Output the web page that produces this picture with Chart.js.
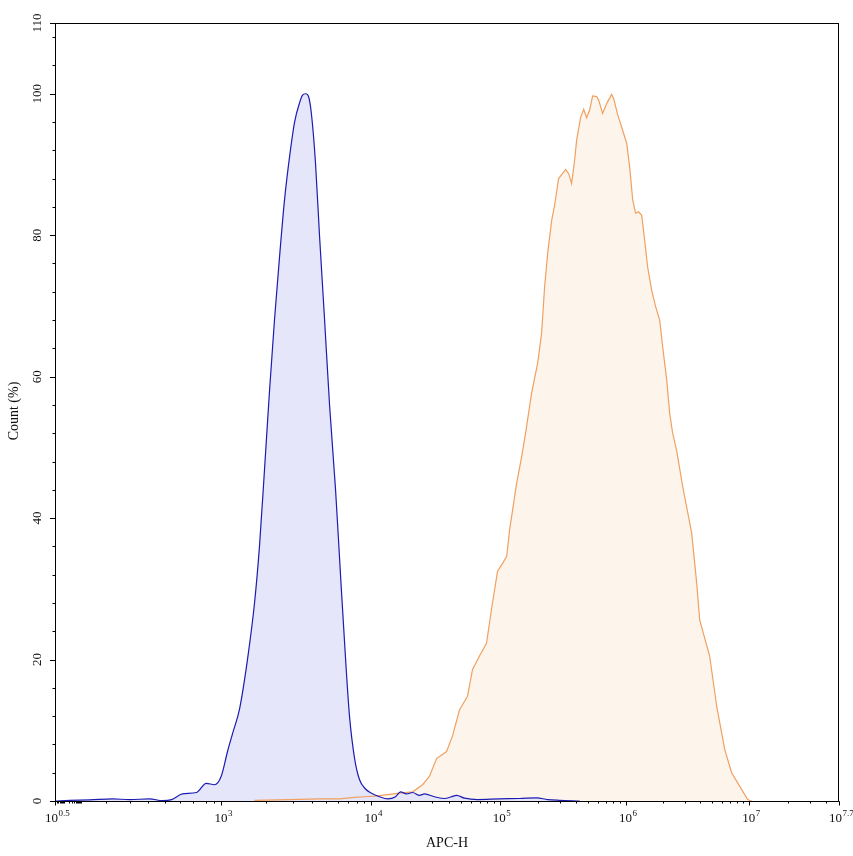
<!DOCTYPE html>
<html>
<head>
<meta charset="utf-8">
<title>APC-H histogram</title>
<script src="https://cdn.jsdelivr.net/npm/chart.js@4.4.1/dist/chart.umd.min.js"></script>
<style>
  html, body { margin: 0; padding: 0; background: #fff; }
  #wrap { width: 853px; height: 856px; }
</style>
</head>
<body>
<div id="wrap"><canvas id="chart" width="853" height="856"></canvas></div>
<script>
"use strict";

// x values are log10(APC-H), y values are Count (%)
const blueExp = [0.52, 1.33, 2.10, 2.349, 2.477, 2.613, 2.688, 2.736, 2.793, 2.862, 2.903, 2.957,
  3.0, 3.042, 3.075, 3.122, 3.175, 3.222, 3.255, 3.289, 3.322, 3.355, 3.389, 3.422, 3.455, 3.489,
  3.522, 3.542, 3.562, 3.582, 3.602, 3.629, 3.655, 3.689, 3.722, 3.762, 3.795, 3.829, 3.855, 3.889,
  3.922, 3.962, 4.002, 4.065, 4.127, 4.189, 4.228, 4.275, 4.322, 4.376, 4.415, 4.493, 4.571, 4.625,
  4.665, 4.727, 4.828, 5.0, 5.159, 5.294, 5.381, 5.476, 5.635];
const blueCount = [0, 0.1, 0.15, 0.3, 0.2, 0.3, 0.05, 0.2, 1.0, 1.2, 2.5, 2.3,
  3.5, 7, 9.5, 13, 20, 28, 36, 47, 58, 68, 77, 85, 91, 96,
  98.7, 99.8, 100, 99.6, 97, 90, 80, 68, 56, 44, 32, 20, 12, 6,
  3, 1.7, 1.1, 0.6, 0.3, 0.6, 1.3, 1.0, 1.2, 0.8, 1.0, 0.6, 0.35, 0.6,
  0.8, 0.4, 0.2, 0.3, 0.35, 0.45, 0.2, 0.1, 0];

const orangeExp = [3.222, 3.455, 3.655, 3.789, 3.889, 3.955, 4.026, 4.127, 4.221, 4.322, 4.400,
  4.454, 4.509, 4.587, 4.633, 4.688, 4.750, 4.789, 4.843, 4.898, 4.936, 4.984, 5.024, 5.056, 5.079,
  5.135, 5.175, 5.206, 5.254, 5.302, 5.333, 5.357, 5.381, 5.413, 5.437, 5.468, 5.524, 5.548, 5.571,
  5.595, 5.611, 5.643, 5.667, 5.690, 5.714, 5.738, 5.770, 5.786, 5.817, 5.849, 5.889, 5.905, 5.937,
  5.968, 6.008, 6.032, 6.057, 6.081, 6.105, 6.130, 6.154, 6.178, 6.211, 6.243, 6.276, 6.300, 6.333,
  6.357, 6.381, 6.414, 6.462, 6.535, 6.576, 6.600, 6.681, 6.738, 6.803, 6.859, 6.924, 6.989, 7.02];
const orangeCount = [0.1, 0.2, 0.3, 0.3, 0.5, 0.6, 0.7, 0.9, 1.1, 1.3, 2.3,
  3.5, 6.0, 7.0, 9.2, 12.9, 14.8, 18.6, 20.5, 22.3, 27, 32.5, 33.6, 34.6, 38.3,
  44.9, 48.7, 52, 57.7, 61.9, 66.1, 72.7, 77.4, 82.1, 84.3, 88.0, 89.3, 88.7, 87.3,
  90.6, 93.4, 96.7, 97.8, 96.6, 97.7, 99.7, 99.6, 99.1, 97.2, 98.6, 99.9, 99.3, 97.0,
  95.3, 93.0, 89.7, 85.0, 83.1, 83.3, 82.8, 79.3, 75.5, 72.2, 69.9, 68.0, 64.2, 59.5,
  54.8, 52, 49.5, 44.5, 37.9, 30.8, 25.6, 20.5, 13.4, 7.3, 4.0, 2.1, 0.2, 0];

// axis tick labels
const xLabelExps = [0.5, 3, 4, 5, 6, 7, 7.7];
const yLabelValues = [0, 20, 40, 60, 80, 100, 110];

// the display is biexponential, not plain log: exponent -> share of the axis width
const AXIS_EXP = [0.5, 2, 2.301, 2.477, 2.602, 2.699, 2.778, 2.845, 2.903, 3, 4, 5, 6, 7, 7.7];
const AXIS_FRAC = [0, 0.0334, 0.0653, 0.0951, 0.1180, 0.1397, 0.1588, 0.1754, 0.1929, 0.2120,
  0.4034, 0.5671, 0.7279, 0.8852, 1];

function interp(v, from, to) {
  if (v <= from[0]) return to[0] + (v - from[0]) * (to[1] - to[0]) / (from[1] - from[0]);
  for (let i = 1; i < from.length; i++) {
    if (v <= from[i]) {
      return to[i - 1] + (v - from[i - 1]) * (to[i] - to[i - 1]) / (from[i] - from[i - 1]);
    }
  }
  const n = from.length - 1;
  return to[n] + (v - from[n]) * (to[n] - to[n - 1]) / (from[n] - from[n - 1]);
}

class BiexScale extends Chart.Scale {
  static id = 'biex';
  static defaults = {};
  determineDataLimits() {
    this.min = this.options.min;
    this.max = this.options.max;
  }
  buildTicks() {
    return xLabelExps.map(e => ({ value: e }));
  }
  getLabelForValue(value) {
    return '10^' + value;
  }
  getPixelForValue(value) {
    return this.getPixelForDecimal(interp(value, AXIS_EXP, AXIS_FRAC));
  }
  getValueForPixel(pixel) {
    return interp(this.getDecimalForPixel(pixel), AXIS_FRAC, AXIS_EXP);
  }
}
Chart.register(BiexScale);

const FONT = '"Liberation Serif", "Times New Roman", serif';

function drawPower(ctx, px, baseY, exp) {
  const base = '10';
  const sup = String(exp);
  ctx.font = '13px ' + FONT;
  const wb = ctx.measureText(base).width;
  ctx.font = '9px ' + FONT;
  const ws = ctx.measureText(sup).width;
  const start = px - (wb + ws) / 2 + 2;
  ctx.textAlign = 'left';
  ctx.textBaseline = 'alphabetic';
  ctx.font = '13px ' + FONT;
  ctx.fillText(base, start, baseY);
  ctx.font = '9px ' + FONT;
  ctx.fillText(sup, start + wb + 0.5, baseY - 6);
}

const axisPainter = {
  id: 'axisPainter',
  afterDatasetsDraw(chart) {
    const ctx = chart.ctx;
    const a = chart.chartArea;
    const x = chart.scales.x;
    const y = chart.scales.y;
    ctx.save();
    ctx.strokeStyle = '#000';
    ctx.fillStyle = '#111';
    ctx.lineWidth = 1;
    ctx.strokeRect(a.left + 0.5, a.top + 0.5, a.right - a.left - 1, a.bottom - a.top);

    // y ticks: major at labels, minor every 4
    ctx.beginPath();
    for (let v = 0; v <= 110; v += 4) {
      const py = Math.round(y.getPixelForValue(v)) + 0.5;
      ctx.moveTo(a.left - 2.5, py);
      ctx.lineTo(a.left, py);
    }
    yLabelValues.forEach(v => {
      const py = Math.round(y.getPixelForValue(v)) + 0.5;
      ctx.moveTo(a.left - 5, py);
      ctx.lineTo(a.left, py);
    });
    ctx.stroke();

    ctx.font = '13px ' + FONT;
    ctx.textAlign = 'center';
    ctx.textBaseline = 'middle';
    yLabelValues.forEach(v => {
      ctx.save();
      ctx.translate(a.left - 17, y.getPixelForValue(v));
      ctx.rotate(-Math.PI / 2);
      ctx.fillText(String(v), 0, 0);
      ctx.restore();
    });

    // x ticks: minor at m * 10^k, major at labelled decades
    const bottom = a.bottom + 0.5;
    ctx.beginPath();
    for (let k = 0; k <= 7; k++) {
      for (let m = 1; m <= 9; m++) {
        const e = Math.log10(m * Math.pow(10, k));
        if (e < x.min || e > x.max) continue;
        const px = Math.round(x.getPixelForValue(e)) + 0.5;
        ctx.moveTo(px, bottom);
        ctx.lineTo(px, bottom + 2);
      }
    }
    xLabelExps.forEach(e => {
      const px = Math.round(x.getPixelForValue(e)) + 0.5;
      ctx.moveTo(px, bottom);
      ctx.lineTo(px, bottom + 4);
    });
    ctx.stroke();

    xLabelExps.forEach(e => drawPower(ctx, x.getPixelForValue(e), a.bottom + 21, e));

    // axis titles
    ctx.font = '14px ' + FONT;
    ctx.textAlign = 'center';
    ctx.textBaseline = 'middle';
    ctx.fillText('APC-H', (a.left + a.right) / 2, 843);
    ctx.save();
    ctx.translate(14, 411);
    ctx.rotate(-Math.PI / 2);
    ctx.fillText('Count (%)', 0, 0);
    ctx.restore();
    ctx.restore();
  }
};

const toPoints = (xs, ys) => xs.map((v, i) => ({ x: v, y: ys[i] }));

new Chart(document.getElementById('chart'), {
  type: 'line',
  data: {
    datasets: [
      {
        data: toPoints(blueExp, blueCount),
        borderColor: '#1c1cb0',
        backgroundColor: '#e6e6fa',
        borderWidth: 1.2,
        fill: 'origin',
        pointRadius: 0,
        cubicInterpolationMode: 'monotone'
      },
      {
        data: toPoints(orangeExp, orangeCount),
        borderColor: '#f0a060',
        backgroundColor: '#fdf5ec',
        borderWidth: 1.2,
        fill: 'origin',
        pointRadius: 0,
        tension: 0
      }
    ]
  },
  options: {
    responsive: false,
    animation: false,
    devicePixelRatio: 1,
    layout: { padding: { left: 55, top: 23, right: 14, bottom: 55 } },
    plugins: {
      legend: { display: false },
      tooltip: { enabled: false },
      filler: { drawTime: 'beforeDatasetsDraw' }
    },
    scales: {
      x: { type: 'biex', min: 0.5, max: 7.7, display: false },
      y: { type: 'linear', min: 0, max: 110, display: false }
    }
  },
  plugins: [axisPainter]
});
</script>
</body>
</html>
